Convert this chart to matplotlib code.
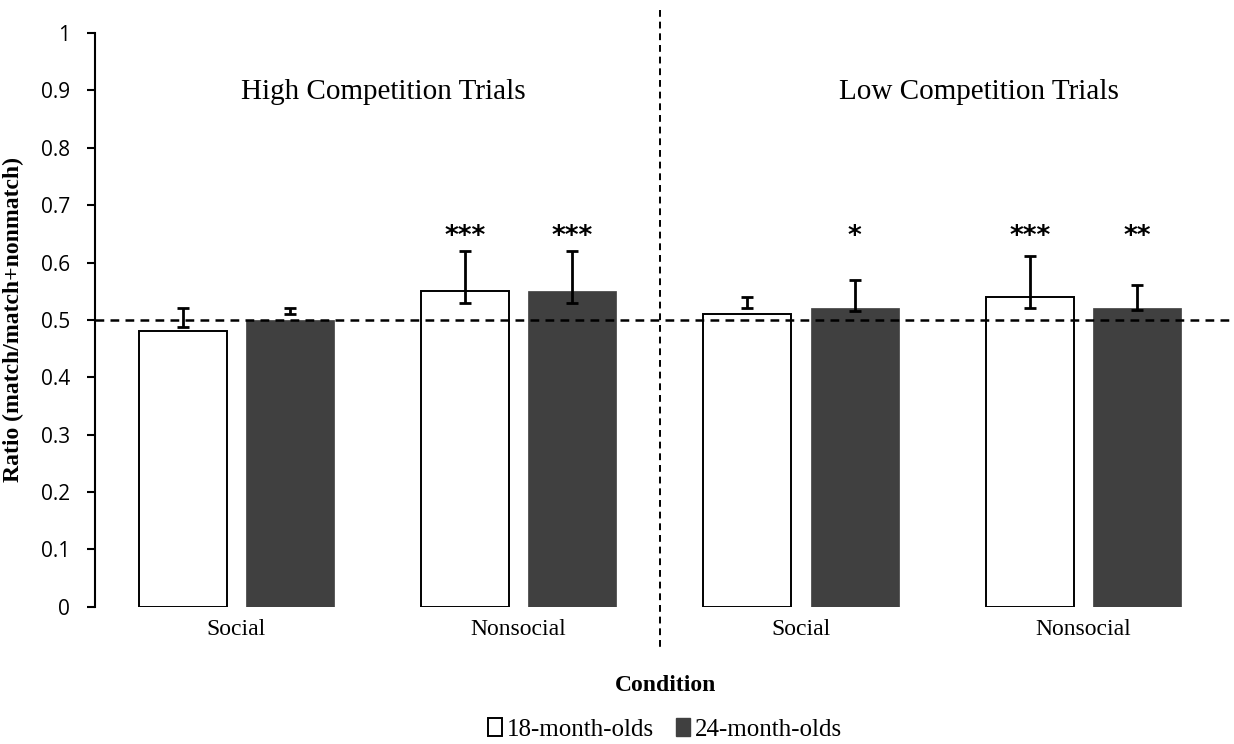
import numpy as np
import matplotlib
matplotlib.use("Agg")
import matplotlib.pyplot as plt
from matplotlib.patches import Patch

# Dados
condicoes = ["Social", "Nonsocial", "Social", "Nonsocial"]
media_18 = [0.48, 0.55, 0.51, 0.54]
media_24 = [0.50, 0.55, 0.52, 0.52]
sup_18 = [0.521, 0.620, 0.540, 0.611]
inf_18 = [0.488, 0.530, 0.521, 0.521]
sup_24 = [0.520, 0.620, 0.570, 0.560]
inf_24 = [0.510, 0.530, 0.515, 0.518]
estrelas_18 = ["", "***", "", "***"]
estrelas_24 = ["", "***", "*", "**"]
blocos = ["High Competition Trials", "Low Competition Trials"]

serif = "Liberation Serif"
sans = "Open Sans"

fig = plt.figure(figsize=(12.34, 7.44), dpi=100)
ax = fig.add_axes([0.077, 0.1845, 0.923, 0.7711])

x = np.arange(len(condicoes))
larg = 0.312
desl = 0.19
cor_escura = "#404040"

ax.bar(x - desl, media_18, larg, color="white", edgecolor="black", linewidth=1.4, zorder=2)
ax.bar(x + desl, media_24, larg, color=cor_escura, edgecolor=cor_escura, linewidth=0.5, zorder=2)

for xs, inf, sup in [(x - desl, inf_18, sup_18), (x + desl, inf_24, sup_24)]:
    inf = np.array(inf)
    sup = np.array(sup)
    ax.errorbar(xs, (inf + sup) / 2, yerr=(sup - inf) / 2, fmt="none", ecolor="black",
                elinewidth=2, capsize=4.5, capthick=2, zorder=4)

for xi, s in zip(x - desl, estrelas_18):
    ax.text(xi, 0.645, s, ha="center", va="center", fontsize=19, fontweight="bold",
            family="DejaVu Sans")
for xi, s in zip(x + desl, estrelas_24):
    ax.text(xi, 0.645, s, ha="center", va="center", fontsize=19, fontweight="bold",
            family="DejaVu Sans")

# linhas tracejadas
ax.axhline(0.5, color="black", linestyle=(0, (3.5, 2.5)), linewidth=1.8, zorder=5)
ax.plot([1.5, 1.5], [1.04, -0.0755], color="black", linestyle=(0, (3.5, 2.5)),
        linewidth=1.4, clip_on=False, zorder=5)

ax.text(0.52, 0.897, blocos[0], ha="center", va="center", fontsize=21, family=serif)
ax.text(2.63, 0.897, blocos[1], ha="center", va="center", fontsize=21, family=serif)

ax.set_xlim(-0.5, 3.533)
ax.set_ylim(0, 1)
ax.set_yticks(np.arange(0, 1.01, 0.1))
ax.set_yticklabels(["0"] + ["%.1f" % v for v in np.arange(0.1, 0.95, 0.1)] + ["1"],
                   family=sans, fontsize=15)
ax.set_xticks(x)
ax.set_xticklabels(condicoes, family=serif, fontsize=17)
ax.tick_params(axis="x", length=0, pad=9)
ax.tick_params(axis="y", direction="out", length=6, width=1.5, pad=12)
for lado in ["top", "right", "bottom"]:
    ax.spines[lado].set_visible(False)
ax.spines["left"].set_linewidth(1.5)

ax.set_ylabel("Ratio (match/match+nonmatch)", family=serif, fontsize=17,
              fontweight="bold", labelpad=12)
fig.text(0.539, 0.079, "Condition", ha="center", va="center", family=serif,
         fontsize=17, fontweight="bold")

handles = [Patch(facecolor="white", edgecolor="black", linewidth=1.4),
           Patch(facecolor=cor_escura, edgecolor=cor_escura)]
fig.legend(handles, ["18-month-olds", "24-month-olds"], loc="center",
           bbox_to_anchor=(0.539, 0.02), ncol=2, frameon=False,
           prop={"family": serif, "size": 18}, handlelength=0.55, handleheight=0.75,
           handletextpad=0.2, columnspacing=0.9)

fig.savefig("out.png", dpi=100)
